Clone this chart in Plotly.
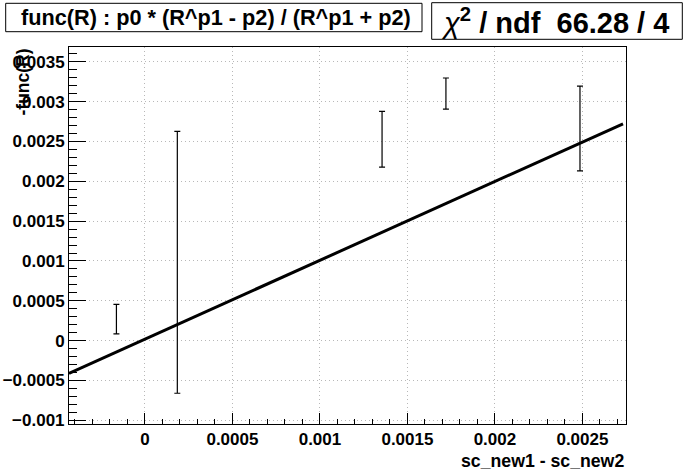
import plotly.graph_objects as go

# ---- data ----
pt_x = [-0.000163, 0.000185, 0.001355, 0.001720, 0.002486]
pt_y = [0.000270, 0.000983, 0.002528, 0.003102, 0.002664]
pt_err = [0.000186, 0.001643, 0.000350, 0.000195, 0.000532]

fit_x = [-0.000434, 0.002732]
fit_y = [-0.000410, 0.002722]

x_range = [-0.000434, 0.002749]
y_range = [-0.001046, 0.003686]

x_ticks = [0, 0.0005, 0.001, 0.0015, 0.002, 0.0025]
x_ticklabels = ["0", "0.0005", "0.001", "0.0015", "0.002", "0.0025"]
y_ticks = [-0.001, -0.0005, 0, 0.0005, 0.001, 0.0015, 0.002, 0.0025, 0.003, 0.0035]
y_ticklabels = ["\u22120.001", "\u22120.0005", "0", "0.0005", "0.001", "0.0015",
                "0.002", "0.0025", "0.003", "0.0035"]

title_text = "func(R) : p0 * (R^p1 - p2) / (R^p1 + p2)"
chi_text = "<i>\u03c7</i><sup><b>2</b></sup><b> / ndf \u00a066.28 / 4</b>"
x_title = "sc_new1 - sc_new2"
y_title = "-func(R)"

# ---- layout geometry ----
W, H = 696, 472
L, R, T, B = 69, 70, 47, 48
PW, PH = W - L - R, H - T - B

def px(x):
    return (x - L) / PW

def py(y):
    return (H - B - y) / PH

FONT = "Liberation Sans"

fig = go.Figure()

fig.add_trace(go.Scatter(
    x=fit_x, y=fit_y, mode="lines",
    line=dict(color="black", width=3),
    showlegend=False, hoverinfo="skip",
))

fig.add_trace(go.Scatter(
    x=pt_x, y=pt_y, mode="markers",
    marker=dict(size=1, color="black", opacity=0),
    error_y=dict(type="data", array=pt_err, symmetric=True,
                 color="black", thickness=1.2, width=3),
    showlegend=False, hoverinfo="skip",
))

axis_common = dict(
    showline=True, mirror=True, linecolor="black", linewidth=1,
    showgrid=True, gridcolor="#b8b8b8", gridwidth=1, griddash="1px,3px",
    zeroline=False, ticks="inside", tickcolor="black", tickwidth=1,
    tickfont=dict(family=FONT, size=17, color="black", weight="bold"),
    automargin=False,
)

fig.update_xaxes(
    range=x_range, tickvals=x_ticks, ticktext=x_ticklabels, ticklen=11,
    minor=dict(ticks="inside", ticklen=5, dtick=0.0001, tick0=0,
               tickcolor="black", showgrid=False),
    **axis_common,
)
fig.update_yaxes(
    range=y_range, tickvals=y_ticks, ticktext=y_ticklabels, ticklen=17,
    minor=dict(ticks="inside", ticklen=8, dtick=0.0001, tick0=0,
               tickcolor="black", showgrid=False),
    **axis_common,
)

shapes = [
    dict(type="rect", xref="paper", yref="paper",
         x0=px(5.7), x1=px(422), y0=py(31.7), y1=py(3.3),
         line=dict(color="black", width=1), fillcolor="white"),
    dict(type="rect", xref="paper", yref="paper",
         x0=px(431.7), x1=px(682.3), y0=py(39.3), y1=py(2.7),
         line=dict(color="black", width=1), fillcolor="white"),
]

annotations = [
    dict(text=title_text, xref="paper", yref="paper", x=px(216), y=py(17.5),
         xanchor="center", yanchor="middle", showarrow=False,
         font=dict(family=FONT, size=21.7, color="black", weight="bold")),
    dict(text=chi_text, xref="paper", yref="paper", x=px(555), y=py(21.5),
         xanchor="center", yanchor="middle", showarrow=False,
         font=dict(family=FONT, size=29, color="black")),
    dict(text=x_title, xref="paper", yref="paper", x=1.0, y=py(461),
         xanchor="right", yanchor="middle", showarrow=False,
         font=dict(family=FONT, size=17.7, color="black", weight="bold")),
    dict(text=y_title, xref="paper", yref="paper", x=px(22), y=1.0,
         xanchor="center", yanchor="top", textangle=-90, showarrow=False,
         font=dict(family=FONT, size=17.5, color="black", weight="bold")),
]

fig.update_layout(
    width=W, height=H, autosize=False,
    margin=dict(l=L, r=R, t=T, b=B, pad=0),
    paper_bgcolor="white", plot_bgcolor="white",
    shapes=shapes, annotations=annotations,
    showlegend=False,
)

fig.write_html(
    "out.html",
    config={"displayModeBar": False, "staticPlot": True},
    post_script="document.body.style.margin='0';document.body.style.padding='0';"
                "document.documentElement.style.overflow='hidden';",
)
